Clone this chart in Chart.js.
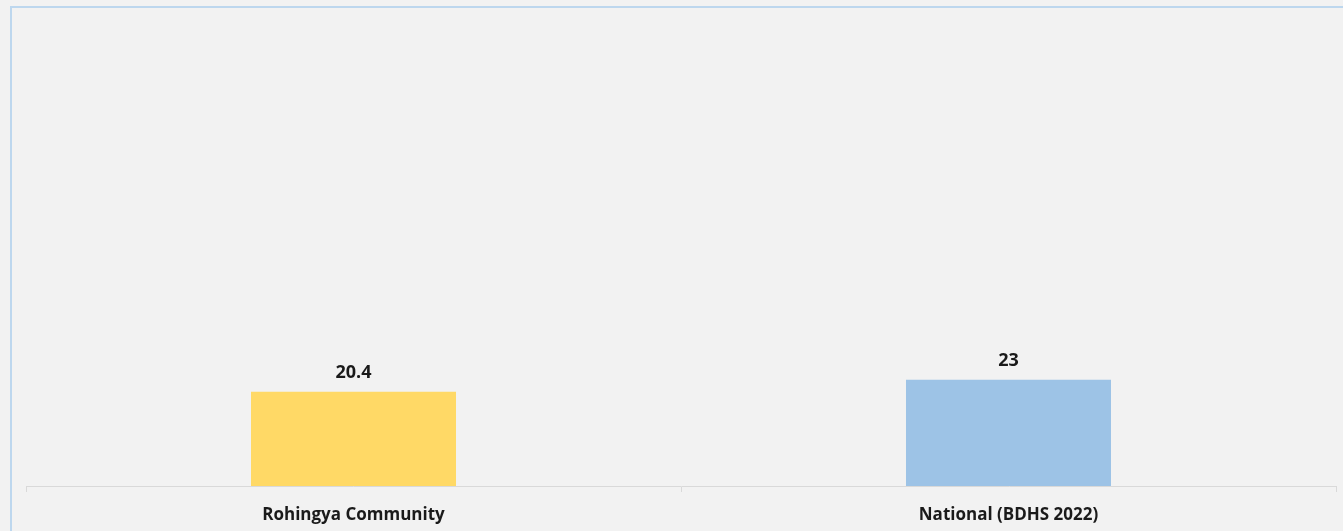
<!DOCTYPE html>
<html>
<head>
<meta charset="utf-8">
<script src="https://cdn.jsdelivr.net/npm/chart.js@4"></script>
<style>
  html, body { margin: 0; padding: 0; background: #f2f2f2; overflow: hidden; }
  #wrap { position: relative; width: 1343px; height: 531px; }
  #frame {
    position: absolute; left: 10px; top: 6px; width: 1400px; height: 600px;
    border-left: 2px solid #bdd7ee; border-top: 2px solid #bdd7ee;
  }
  canvas { position: absolute; left: 0; top: 0; }
</style>
</head>
<body>
<div id="wrap">
  <div id="frame"></div>
  <canvas id="myChart" width="1343" height="531"></canvas>
</div>
<script>
const labels = ["Rohingya Community", "National (BDHS 2022)"];
const values = [20.4, 23];
const barColors = ["#ffd966", "#9dc3e6"];

// writes each bar's value just above it
const valueLabels = {
  id: "valueLabels",
  afterDatasetsDraw(chart) {
    const ctx = chart.ctx;
    ctx.save();
    ctx.font = "bold 18px 'Open Sans', sans-serif";
    ctx.fillStyle = "#1a1a1a";
    ctx.textAlign = "center";
    ctx.textBaseline = "middle";
    chart.getDatasetMeta(0).data.forEach((bar, i) => {
      ctx.fillText(values[i], bar.x, bar.y - 19);
    });
    ctx.restore();
  },
};

new Chart("myChart", {
  type: "bar",
  data: {
    labels: labels,
    datasets: [
      {
        data: values,
        backgroundColor: barColors,
        borderWidth: 0,
        categoryPercentage: 1,
        barPercentage: 0.313,
      },
    ],
  },
  options: {
    responsive: false,
    animation: false,
    layout: { padding: { left: 26, right: 7, top: 24, bottom: 0 } },
    plugins: {
      legend: { display: false },
      tooltip: { enabled: false },
    },
    scales: {
      y: { min: 0, max: 100, display: false },
      x: {
        afterFit(scale) {
          scale.height = 45;
        },
        grid: {
          drawOnChartArea: false,
          color: "#d9d9d9",
          tickLength: 6,
        },
        border: { color: "#d9d9d9", width: 1 },
        ticks: {
          padding: 13,
          color: "#1a1a1a",
          font: { family: "'Open Sans', sans-serif", size: 17, weight: "bold" },
        },
      },
    },
  },
  plugins: [valueLabels],
});
</script>
</body>
</html>
